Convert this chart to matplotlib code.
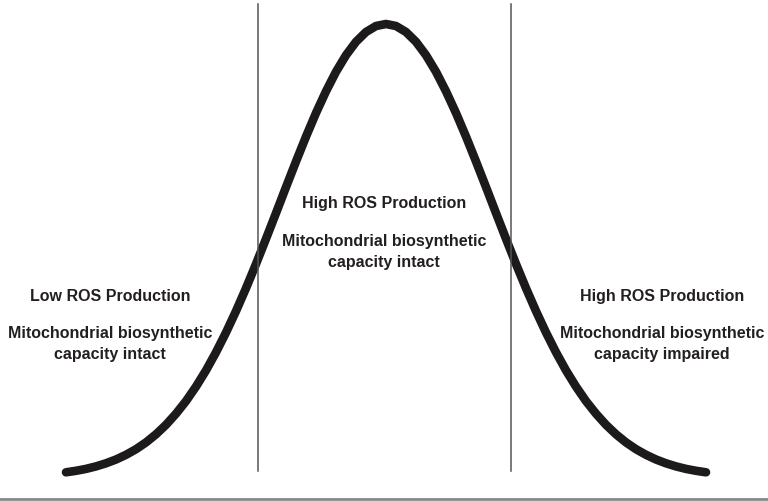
import matplotlib.pyplot as plt

plt.rcParams['font.family'] = ['Liberation Sans', 'DejaVu Sans']

# bell curve, every 10 px (x, height in pixel units)
curve_x = list(range(66, 707, 10))
curve_y = [473.3, 471.8, 469.9, 467.4, 464.3, 460.5, 455.8, 450.2, 443.4,
           435.3, 425.8, 414.7, 402.1, 387.6, 371.4, 353.3, 333.5, 312.1,
           289.2, 265.0, 239.8, 214.1, 188.1, 162.5, 137.6, 114.0, 92.3,
           72.8, 56.2, 42.8, 33.0, 27.0, 25.0,
           27.0, 33.0, 42.8, 56.2, 72.8, 92.3, 114.0, 137.6, 162.5, 188.1,
           214.1, 239.8, 265.0, 289.2, 312.1, 333.5, 353.3, 371.4, 387.6,
           402.1, 414.7, 425.8, 435.3, 443.4, 450.2, 455.8, 460.5, 464.3,
           467.4, 469.9, 471.8, 473.3]

# zone boundaries
boundaries = [258, 511]

zone_titles = ['Low ROS Production', 'High ROS Production', 'High ROS Production']
zone_notes = ['Mitochondrial biosynthetic\ncapacity intact',
              'Mitochondrial biosynthetic\ncapacity intact',
              'Mitochondrial biosynthetic\ncapacity impaired']
zone_centers = [110, 384, 662]
title_y = [296.5, 203.5, 296.5]
note_y = [344, 252.5, 344]

fig = plt.figure(figsize=(7.68, 5.02), dpi=100)
ax = fig.add_axes([0, 0, 1, 1])
ax.set_xlim(0, 768)
ax.set_ylim(502, 0)
ax.axis('off')

ax.plot(curve_x, curve_y, color='#1c1a1a', lw=6.2, solid_capstyle='round',
        solid_joinstyle='round')

for b in boundaries:
    ax.plot([b, b], [5, 472], color='#555555', lw=1.1)

ax.axhline(500, color='#888888', lw=2)

for cx, t, ty, n, ny in zip(zone_centers, zone_titles, title_y, zone_notes, note_y):
    ax.text(cx, ty, t, ha='center', va='center', fontsize=11.5,
            fontweight='bold', color='#231f20')
    ax.text(cx, ny, n, ha='center', va='center', fontsize=11.5,
            fontweight='bold', color='#231f20', linespacing=1.5)

fig.savefig('out.png', dpi=100)
